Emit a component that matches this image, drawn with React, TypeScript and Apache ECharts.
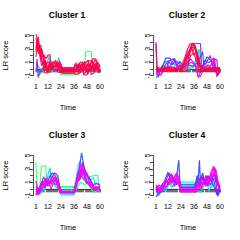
import React, { useEffect, useRef } from "react";
import * as echarts from "echarts";

const clusterTitles = ["Cluster 1", "Cluster 2", "Cluster 3", "Cluster 4"];
const xTickLabels = [1, 12, 24, 36, 48, 60];
const yTickLabels = [-1, 1, 3, 5];
const timePoints = Array.from({ length: 60 }, (_, i) => i + 1);

const GREEN = "#33FF66";
const AQUA = "#00FFB8";
const CYAN = "#00D5FF";
const BLUE = "#2645FF";
const INDIGO = "#5533FF";
const PURPLE = "#8C1AFF";
const VIOLET = "#C000FF";
const MAGENTA = "#FF00F0";
const PINK = "#FF0090";
const RED = "#FF0040";

// Cluster 1: [time, LR score] points
const cluster1Colors = [GREEN, CYAN, PURPLE, PINK, RED, RED, PINK, RED, RED, RED, RED];
const cluster1Lines = [
  [[1,0.0],[4,-0.8],[8,-0.5],[12,0.2],[15,-0.6],[18,0.5],[22,0.3],[24,-0.9],[38,-0.9],[41,-0.3],[45,-0.6],[47,2.6],[52,2.6],[53,0.3],[56,-0.3],[60,0.0]],
  [[1,1.0],[3,0.5],[6,-0.3],[10,0.1],[13,1.9],[14,0.2],[17,0.0],[20,0.6],[22,1.7],[23,0.4],[26,-0.6],[35,-0.6],[37,0.7],[39,-0.2],[43,0.1],[47,-0.4],[50,0.3],[54,-0.1],[60,0.2]],
  [[1,-0.5],[2,1.5],[3,-1.3],[5,-0.4],[8,0.3],[12,0.0],[16,0.6],[20,-0.2],[24,-0.3],[36,-0.3],[39,0.1],[42,0.4],[45,-0.2],[49,0.5],[52,0.1],[56,0.8],[60,-0.3]],
  [[1,2.5],[2,3.5],[4,3.0],[6,1.2],[8,0.8],[10,-0.3],[14,0.4],[18,1.0],[20,0.2],[24,0.8],[25,-0.3],[37,-0.3],[39,0.2],[42,-0.6],[44,1.0],[46,0.2],[50,0.8],[52,-0.9],[55,-0.5],[57,0.8],[60,0.5]],
  [[1,5.2],[2,4.6],[4,3.5],[6,2.5],[8,1.5],[9,0.2],[12,0.5],[16,0.8],[18,0.3],[22,0.9],[24,-0.4],[38,-0.4],[40,0.3],[44,0.6],[46,-0.3],[50,1.2],[53,1.2],[54,-0.2],[57,0.5],[60,0.1]],
  [[1,4.0],[3,3.2],[5,2.8],[7,2.0],[9,2.0],[10,0.5],[13,-0.2],[15,0.9],[20,0.9],[21,-0.5],[24,-0.5],[36,-0.5],[37,-0.8],[40,-0.8],[42,0.5],[45,0.9],[48,-0.5],[52,0.0],[55,1.3],[57,1.3],[58,-0.6],[60,-0.2]],
  [[1,2.8],[3,4.0],[5,1.5],[7,2.2],[10,0.6],[12,1.0],[15,1.0],[17,-0.2],[21,0.0],[24,0.6],[26,0.0],[37,0.0],[40,0.7],[43,0.0],[46,-0.7],[49,0.2],[52,1.0],[55,0.6],[58,-0.4],[60,0.0]],
  [[1,3.0],[2,4.2],[4,2.2],[6,3.0],[8,1.8],[11,1.6],[12,2.1],[14,2.1],[15,0.1],[19,0.3],[23,1.1],[25,0.0],[36,0.0],[38,-0.3],[41,0.9],[43,-0.2],[47,0.4],[49,-0.8],[51,0.6],[55,0.2],[58,1.0],[60,0.3]],
  [[1,3.5],[3,2.6],[5,2.0],[6,0.5],[9,1.0],[11,-0.4],[13,0.6],[16,-0.1],[19,1.3],[22,0.4],[24,0.1],[26,0.2],[36,0.2],[38,0.9],[40,-0.5],[43,0.2],[46,1.1],[48,0.3],[53,0.3],[55,-0.4],[58,0.4],[60,-0.6]],
  [[1,1.8],[2,3.0],[3,4.8],[5,2.2],[7,1.0],[9,-0.6],[12,-0.6],[13,0.9],[17,0.3],[21,0.5],[24,-0.2],[35,-0.2],[37,0.5],[39,0.5],[41,-0.7],[44,0.0],[47,0.9],[49,1.3],[51,-0.3],[54,0.9],[56,-0.2],[60,0.6]],
  [[1,4.6],[2,3.8],[3,3.0],[5,3.6],[7,2.5],[8,1.0],[10,1.2],[12,-0.5],[14,-0.5],[16,1.0],[20,1.0],[23,-0.5],[26,-0.7],[36,-0.7],[39,-0.1],[42,1.0],[44,1.0],[45,-0.9],[48,-0.9],[50,0.0],[53,1.5],[56,1.5],[57,0.0],[60,0.3]],
];

const cluster2Colors = [GREEN, CYAN, BLUE, INDIGO, PURPLE, MAGENTA, PINK, RED, RED, RED, RED, RED];
const cluster2Lines = [
  [[1,-0.5],[8,0.3],[14,-0.2],[20,0.6],[26,0.0],[36,0.4],[41,3.0],[42,0.8],[46,0.2],[52,0.5],[60,-0.2]],
  [[1,-0.3],[6,0.1],[10,1.2],[13,0.3],[17,0.8],[22,0.1],[30,-0.2],[36,0.3],[40,2.9],[41,0.5],[44,0.0],[48,0.6],[52,-0.4],[60,0.0]],
  [[1,-1.2],[3,-1.2],[5,-0.3],[8,0.8],[10,1.6],[14,1.6],[16,0.6],[19,1.2],[22,0.9],[25,0.2],[30,0.6],[35,0.4],[40,1.0],[44,2.6],[45,0.5],[48,1.8],[52,1.2],[55,0.5],[58,-1.0],[60,-0.3]],
  [[1,-0.8],[4,-0.5],[7,0.5],[11,0.2],[13,1.2],[17,1.5],[20,0.5],[23,1.1],[27,0.3],[33,1.5],[37,0.6],[40,-1.2],[42,-0.5],[46,1.3],[50,0.9],[54,1.6],[56,-0.2],[60,0.2]],
  [[1,4.0],[2,-1.0],[6,-0.8],[9,0.4],[12,1.2],[15,0.6],[18,1.6],[21,0.3],[26,0.6],[30,0.9],[34,3.8],[42,3.8],[43,0.2],[47,0.8],[51,2.0],[53,0.6],[57,-0.5],[60,0.0]],
  [[1,-0.6],[5,-1.0],[9,0.0],[13,0.4],[17,-0.2],[22,0.5],[28,0.0],[33,1.0],[38,0.5],[40,-1.3],[42,-1.1],[45,0.1],[49,0.6],[53,0.0],[55,1.6],[57,-1.2],[59,-0.5],[60,-0.5]],
  [[1,-0.4],[7,-0.2],[15,0.3],[20,0.1],[26,0.5],[30,2.5],[34,3.0],[36,2.0],[38,2.6],[40,0.2],[45,0.3],[50,0.2],[55,1.4],[57,1.4],[58,0.0],[60,0.1]],
  [[1,0.0],[8,-0.1],[12,-0.1],[24,0.0],[26,1.0],[28,1.9],[30,2.9],[32,3.7],[36,3.7],[38,2.8],[40,1.8],[42,0.3],[46,0.0],[60,-0.1]],
  [[1,-0.2],[10,-0.3],[22,-0.2],[25,-0.2],[27,0.8],[30,1.8],[33,2.8],[35,3.8],[37,3.0],[39,2.0],[41,1.0],[43,-0.3],[52,-0.3],[60,-0.2]],
  [[1,0.2],[6,0.1],[14,0.2],[22,0.0],[28,0.2],[29,1.2],[32,2.2],[34,3.2],[37,3.2],[39,1.5],[40,-0.5],[47,-0.2],[53,0.1],[60,0.0]],
  [[1,3.8],[2,-0.3],[9,-0.4],[18,-0.3],[24,-0.4],[30,-0.3],[31,1.0],[33,2.0],[36,2.4],[38,1.2],[41,0.5],[44,-0.4],[56,-0.4],[58,-0.8],[60,-0.4]],
  [[1,-0.1],[12,0.1],[20,-0.3],[26,0.4],[28,1.4],[31,2.4],[33,3.4],[35,2.6],[37,3.6],[39,2.2],[40,1.0],[42,0.0],[50,0.1],[60,0.2]],
];

const cluster3Colors = [GREEN, AQUA, CYAN, AQUA, BLUE, PURPLE, VIOLET, MAGENTA, MAGENTA, MAGENTA, MAGENTA];
const cluster3Lines = [
  [[1,4.0],[2,0.0],[4,-0.6],[6,3.4],[10,3.4],[11,0.5],[15,1.0],[19,0.3],[22,0.3],[36,0.3],[38,1.2],[41,2.4],[44,1.5],[47,1.0],[50,0.4],[54,-0.5],[60,-0.3]],
  [[1,-0.8],[4,-0.2],[7,0.8],[10,1.5],[14,2.0],[17,1.0],[21,1.8],[23,-0.2],[36,-0.2],[39,2.5],[42,3.0],[46,1.2],[50,1.8],[55,2.0],[58,2.0],[59,0.5],[60,0.2]],
  [[1,-0.3],[3,-1.0],[6,0.6],[9,-0.4],[12,2.1],[14,3.2],[15,1.0],[19,1.6],[22,0.2],[24,-0.9],[36,-0.9],[38,0.6],[40,3.6],[42,4.2],[44,2.5],[48,1.8],[52,0.4],[56,0.9],[60,0.5]],
  [[1,-0.6],[5,-0.8],[8,0.0],[11,0.8],[14,0.4],[17,0.9],[21,0.0],[24,0.3],[35,0.3],[38,-0.2],[42,1.0],[46,0.6],[50,1.1],[54,1.7],[57,-0.3],[60,0.0]],
  [[1,0.0],[4,-0.5],[7,1.2],[10,0.4],[13,1.6],[16,2.4],[19,1.9],[22,0.6],[25,-0.6],[36,-0.6],[39,1.4],[41,3.2],[43,5.4],[45,3.5],[47,2.2],[51,1.4],[55,0.2],[60,0.3]],
  [[1,-1.0],[5,0.3],[8,1.8],[11,0.6],[14,1.2],[18,2.4],[21,2.0],[23,-0.4],[36,-0.4],[38,0.8],[40,2.5],[42,1.5],[44,4.0],[46,2.8],[49,2.0],[53,0.6],[57,0.8],[60,0.6]],
  [[1,1.2],[3,-0.4],[6,1.0],[9,0.2],[11,1.2],[14,0.8],[16,1.9],[20,1.0],[23,-0.6],[36,-0.6],[39,1.8],[41,1.2],[43,2.4],[45,3.0],[47,1.0],[52,0.6],[56,-0.2],[60,0.4]],
  [[1,-0.5],[4,0.2],[7,0.9],[9,0.1],[12,1.5],[15,0.7],[18,1.8],[21,1.2],[23,-0.4],[36,-0.4],[38,1.0],[41,2.0],[43,3.4],[45,2.2],[48,1.2],[51,0.4],[55,-0.1],[60,0.1]],
  [[1,-0.8],[3,0.0],[6,0.3],[9,1.3],[12,0.4],[15,1.6],[17,1.0],[20,1.5],[23,-0.5],[35,-0.5],[38,0.5],[40,1.5],[42,2.8],[44,3.3],[46,1.6],[49,0.8],[53,0.0],[57,0.3],[60,0.2]],
  [[1,-0.2],[4,-0.7],[7,0.4],[10,1.6],[13,0.8],[16,1.3],[19,0.6],[22,1.0],[24,-0.4],[36,-0.4],[39,1.0],[42,3.8],[44,2.0],[46,2.5],[48,0.8],[52,1.0],[55,0.0],[60,0.0]],
  [[1,0.4],[3,-0.9],[6,-0.2],[9,0.8],[12,1.0],[15,0.0],[18,1.4],[21,0.4],[23,-0.5],[37,-0.5],[40,1.2],[42,2.2],[45,1.4],[48,2.4],[50,1.0],[54,0.4],[58,-0.5],[60,-0.2]],
];

const cluster4Colors = [AQUA, CYAN, BLUE, BLUE, INDIGO, VIOLET, MAGENTA, MAGENTA, MAGENTA, MAGENTA];
const cluster4Lines = [
  [[1,-0.4],[5,-0.6],[8,0.0],[11,0.4],[14,0.9],[17,0.3],[20,1.0],[24,1.0],[36,1.0],[38,0.0],[42,-0.6],[45,0.4],[48,1.0],[52,0.2],[56,1.2],[60,-0.2]],
  [[1,-0.8],[4,-1.0],[7,0.2],[10,-0.4],[13,0.8],[16,0.2],[19,1.3],[22,0.6],[24,0.7],[36,0.7],[38,-0.5],[40,1.0],[43,0.4],[47,1.6],[50,-0.4],[53,1.0],[56,1.8],[58,0.5],[60,0.3]],
  [[1,-0.5],[3,-0.3],[6,0.5],[9,1.2],[12,2.5],[14,1.5],[17,1.0],[20,1.8],[22,4.3],[23,1.0],[24,0.3],[38,0.3],[40,1.5],[41,4.3],[42,1.0],[45,1.6],[48,0.5],[52,1.5],[55,2.5],[57,1.0],[60,0.2]],
  [[1,-1.2],[4,-0.6],[7,0.6],[10,0.2],[13,1.0],[16,2.0],[19,0.6],[22,1.2],[24,0.6],[37,0.6],[39,2.0],[41,0.6],[44,2.4],[46,1.0],[50,2.0],[53,0.8],[56,-0.2],[58,-1.1],[60,-0.3]],
  [[1,-0.2],[3,0.5],[6,-0.6],[9,0.6],[11,1.6],[13,2.4],[15,0.8],[18,1.6],[20,0.6],[23,1.2],[24,0.2],[37,0.2],[39,1.4],[41,0.2],[43,2.0],[46,0.8],[48,2.0],[51,0.6],[54,1.6],[57,-0.9],[60,0.2]],
  [[1,0.3],[3,-0.8],[6,0.0],[9,0.8],[12,1.2],[15,2.3],[18,1.0],[21,1.5],[23,0.2],[24,0.0],[37,0.0],[40,1.0],[43,1.8],[46,0.6],[49,1.8],[52,1.2],[55,2.2],[58,-0.8],[60,0.0]],
  [[1,0.0],[4,-0.5],[7,0.4],[10,1.2],[13,0.6],[16,1.8],[19,1.2],[21,2.0],[23,1.0],[24,-0.3],[37,-0.3],[39,0.6],[42,-0.2],[45,1.2],[48,0.8],[51,1.4],[53,2.5],[55,3.2],[57,2.0],[59,0.0],[60,-0.2]],
  [[1,-0.3],[4,0.2],[7,-0.2],[10,0.9],[13,1.5],[16,1.0],[19,2.2],[22,0.8],[24,-0.4],[38,-0.4],[41,0.8],[43,0.0],[46,1.4],[49,0.4],[52,2.0],[54,3.0],[56,2.6],[58,0.6],[60,0.0]],
  [[1,0.6],[3,-0.2],[6,0.3],[9,0.0],[12,0.8],[15,1.4],[18,0.4],[21,1.2],[24,-0.5],[38,-0.5],[40,0.2],[44,1.0],[47,0.4],[50,1.0],[53,1.8],[56,3.0],[58,1.2],[60,0.4]],
  [[1,0.0],[4,0.6],[7,0.0],[10,1.4],[12,0.6],[15,1.8],[17,1.2],[20,2.4],[22,1.6],[24,-0.2],[38,-0.2],[41,1.6],[44,0.6],[47,2.0],[49,1.0],[52,2.6],[54,3.4],[57,1.6],[59,0.0],[60,0.0]],
];

const allLines = [cluster1Lines, cluster2Lines, cluster3Lines, cluster4Lines];
const allColors = [cluster1Colors, cluster2Colors, cluster3Colors, cluster4Colors];

const FONT = "'Liberation Sans', Arial, Helvetica, sans-serif";

export default function App() {
  const ref = useRef<HTMLDivElement>(null);
  useEffect(() => {
    if (!ref.current) return;
    const chart = echarts.init(ref.current, null, { renderer: "svg" });
    const grids: any[] = [];
    const xAxes: any[] = [];
    const yAxes: any[] = [];
    const series: any[] = [];
    const graphics: any[] = [];
    for (let i = 0; i < 4; i++) {
      const ox = (i % 2) * 120;
      const oy = Math.floor(i / 2) * 120;
      grids.push({ left: ox + 36, top: oy + 35.5, width: 64, height: 40 });
      xAxes.push({
        type: "value",
        gridIndex: i,
        min: 1,
        max: 60,
        offset: 4,
        splitLine: { show: false },
        axisLine: { show: true, lineStyle: { color: "#222", width: 0.8 } },
        axisTick: { show: true, customValues: timePoints, length: 3.5, lineStyle: { color: "#333", width: 0.7 } },
        axisLabel: { customValues: xTickLabels, fontSize: 7, margin: 3, color: "#000", fontFamily: FONT },
        name: "Time",
        nameLocation: "middle",
        nameGap: 24,
        nameTextStyle: { fontSize: 7.5, color: "#000", fontFamily: FONT },
      });
      yAxes.push({
        type: "value",
        gridIndex: i,
        min: -1,
        max: 5,
        interval: 1,
        offset: 3,
        splitLine: { show: false },
        axisLine: { show: true, lineStyle: { color: "#222", width: 0.8 } },
        axisTick: { show: true, length: 3, lineStyle: { color: "#222", width: 0.8 } },
        axisLabel: {
          customValues: yTickLabels,
          rotate: 90,
          fontSize: 7,
          margin: 2,
          color: "#000",
          fontFamily: FONT,
          hideOverlap: false,
        },
        name: "LR score",
        nameLocation: "middle",
        nameRotate: 90,
        nameGap: 24,
        nameTextStyle: { fontSize: 7.5, color: "#000", fontFamily: FONT },
      });
      allLines[i].forEach((line, j) => {
        series.push({
          type: "line",
          xAxisIndex: i,
          yAxisIndex: i,
          data: line,
          showSymbol: false,
          clip: false,
          silent: true,
          lineStyle: { width: 1.2, color: allColors[i][j], opacity: 0.9 },
        });
      });
      graphics.push({
        type: "text",
        x: ox + 67,
        y: oy + 15,
        style: {
          text: clusterTitles[i],
          font: `bold 8.5px ${FONT}`,
          fill: "#000",
          textAlign: "center",
          textVerticalAlign: "middle",
        },
      });
    }
    chart.setOption({
      animation: false,
      grid: grids,
      xAxis: xAxes,
      yAxis: yAxes,
      series,
      graphic: graphics,
    });
    return () => chart.dispose();
  }, []);
  return (
    <div
      ref={ref}
      style={{ position: "fixed", left: 0, top: 0, width: 240, height: 240, background: "#fff" }}
    />
  );
}
